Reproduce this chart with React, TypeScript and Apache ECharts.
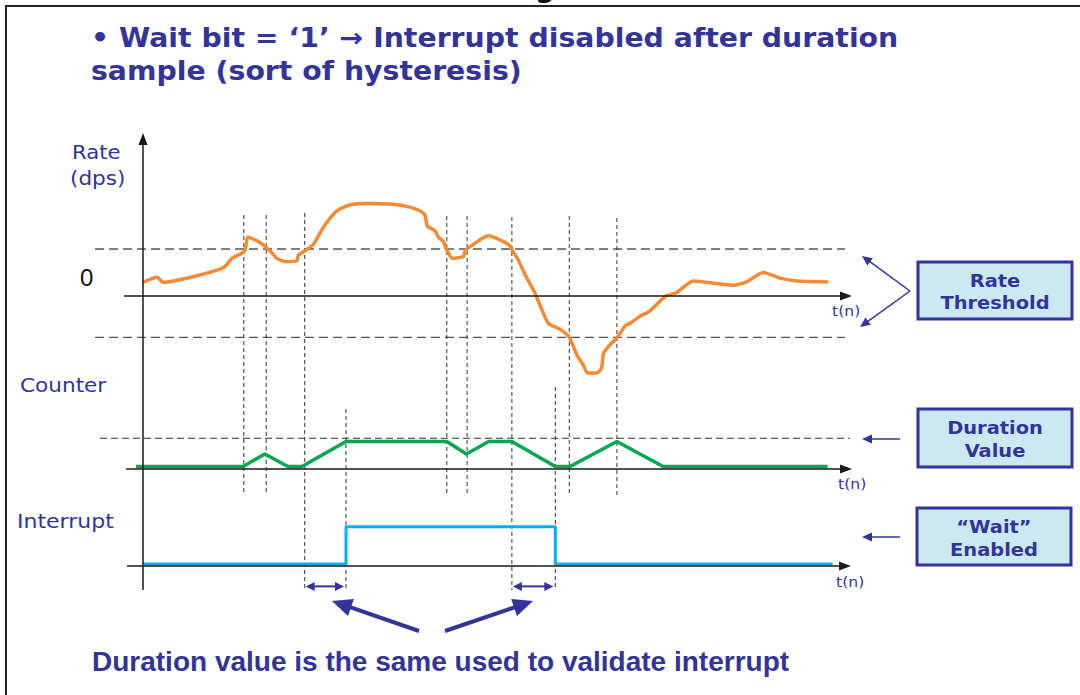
import React, { useEffect, useRef } from "react";
import * as echarts from "echarts";

// ---------------- data ----------------
// time axis (arbitrary sample units), shared by the three panels
const X_MIN = -7;
const X_MAX = 101;

// Rate (dps) curve
const RATE_T = [
  0, 2.0, 2.9, 7.7, 11.0, 11.8, 12.7, 14.1, 14.6, 15.0,
  16.7, 18.4, 19.1, 20.3, 22.0, 22.2, 23.1, 24.3, 25.8, 27.7,
  29.6, 32.0, 35.8, 38.1, 39.6, 40.3, 40.6, 41.7, 42.2, 42.9,
  43.4, 44.2, 45.8, 46.0, 47.4, 49.3, 51.2, 52.4, 52.8, 53.6,
  54.6, 56.0, 56.7, 57.9, 59.6, 60.9, 62.0, 62.9, 63.5, 64.8,
  65.5, 65.8, 66.7, 67.7, 68.9, 69.6, 71.0, 72.4, 74.6, 76.2,
  78.6, 84.3, 86.2, 88.6, 91.0, 93.4, 97.9,
];
const RATE_V = [
  2.9, 4.0, 2.9, 4.3, 5.7, 6.4, 8.0, 9.1, 9.8, 12.5,
  11.4, 9.2, 8.0, 7.3, 7.5, 8.7, 9.6, 10.9, 14.7, 18.1,
  19.4, 19.7, 19.5, 18.9, 18.1, 17.2, 14.9, 13.9, 12.5, 11.6,
  9.8, 8.0, 8.4, 9.6, 11.2, 12.8, 11.8, 10.7, 9.6, 7.7,
  4.5, 0.6, -1.9, -5.8, -7.1, -8.8, -12.6, -14.7, -16.4, -16.4,
  -15.4, -12.2, -10.4, -8.9, -6.3, -5.8, -4.3, -3.2, -0.1, 0.7,
  3.2, 2.3, 3.0, 5.0, 3.8, 3.2, 3.0,
];
const RATE_THRESHOLD_HIGH = 10;
const RATE_THRESHOLD_LOW = -8.8;

// Counter
const COUNTER_T = [-1, 14.3, 17.4, 20.7, 22.7, 29.0, 43.4, 46.2, 49.4, 52.7, 58.9, 61.0, 67.7, 74.3, 97.8];
const COUNTER_V = [0, 0, 2, 0, 0, 4, 4, 2, 4, 4, 0, 0, 4, 0, 0];
const DURATION_VALUE = 4;

// Interrupt
const INT_T = [0, 29.0, 29.0, 58.9, 58.9, 98.5];
const INT_V = [0, 0, 1, 1, 0, 0];

// event instants (vertical dashed markers)
const EVENT_T = [14.4, 17.6, 23.1, 29.0, 43.4, 46.3, 52.7, 58.9, 60.9, 67.7];

// texts
const TITLE_LINES = ["• Wait bit = ‘1’ → Interrupt disabled after duration", "sample (sort of hysteresis)"];
const FOOTNOTE = "Duration value is the same used to validate interrupt";
const BOX_LABELS = [["Rate", "Threshold"], ["Duration", "Value"], ["“Wait”", "Enabled"]];
const AXIS_END_LABEL = "t(n)";

// ---------------- layout / style ----------------
const GRID_LEFT = 94;
const GRID_WIDTH = 756;
const EVENT_SPAN = [
  [215, 492], [215, 492], [213, 590], [409, 590], [216, 493],
  [216, 496], [217, 590], [387, 590], [216, 493], [218, 497],
];
const NAVY = "#333399";
const ORANGE = "#F28A36";
const GREEN = "#00A651";
const CYAN = "#00B0F0";
const BOX_FILL = "#CCE8F3";
const VF = "'DejaVu Sans', Verdana, sans-serif";
const AF = "'Liberation Sans', Arial, sans-serif";

function zip(a: number[], b: number[]) {
  return a.map((v, i) => [v, b[i]]);
}

function txt(text: string, x: number, baseline: number, size: number, opts: any = {}) {
  const family = opts.family || VF;
  const weight = opts.weight || "normal";
  const align = opts.align || "left";
  return {
    type: "text",
    x,
    y: baseline - 0.346 * size,
    scaleX: opts.scaleX || 1,
    z: 20,
    style: {
      text,
      fill: opts.color || NAVY,
      font: `${weight} ${size}px ${family}`,
      fontSize: size,
      fontFamily: family,
      fontWeight: weight,
      align,
      textAlign: align,
      verticalAlign: "middle",
      textVerticalAlign: "middle",
    },
  };
}

function arrowEls(x1: number, y1: number, x2: number, y2: number, o: any) {
  const { color, width, head, half, both } = o;
  const dx = x2 - x1, dy = y2 - y1;
  const L = Math.hypot(dx, dy);
  const ux = dx / L, uy = dy / L;
  const nx = -uy, ny = ux;
  const sx = both ? x1 + ux * head * 0.8 : x1;
  const sy = both ? y1 + uy * head * 0.8 : y1;
  const ex = x2 - ux * head * 0.8, ey = y2 - uy * head * 0.8;
  const tri = (tx: number, ty: number, vx: number, vy: number) => ({
    type: "polygon",
    z: 15,
    shape: {
      points: [
        [tx, ty],
        [tx - vx * head + nx * half, ty - vy * head + ny * half],
        [tx - vx * head - nx * half, ty - vy * head - ny * half],
      ],
    },
    style: { fill: color },
  });
  const els: any[] = [
    { type: "line", z: 15, shape: { x1: sx, y1: sy, x2: ex, y2: ey }, style: { stroke: color, lineWidth: width } },
    tri(x2, y2, ux, uy),
  ];
  if (both) els.push(tri(x1, y1, -ux, -uy));
  return els;
}

function hline(x1: number, x2: number, y: number, style: any, z = 1) {
  return { type: "line", z, shape: { x1, y1: y, x2, y2: y }, style };
}

export default function App() {
  const ref = useRef<HTMLDivElement>(null);

  useEffect(() => {
    const chart = echarts.init(ref.current!, null, { renderer: "svg" });
    const grid = [
      { left: GRID_LEFT, width: GRID_WIDTH, top: 131.5, height: 258.5 },
      { left: GRID_LEFT, width: GRID_WIDTH, top: 429, height: 62.5 },
      { left: GRID_LEFT, width: GRID_WIDTH, top: 508.05, height: 93.25 },
    ];
    const xAxis = [0, 1, 2].map((i) => ({ type: "value", gridIndex: i, min: X_MIN, max: X_MAX, show: false }));
    const yAxis = [
      { type: "value", gridIndex: 0, min: -20, max: 35, show: false },
      { type: "value", gridIndex: 1, min: -4, max: 6, show: false },
      { type: "value", gridIndex: 2, min: -1, max: 1.5, show: false },
    ];
    chart.setOption({
      animation: false,
      backgroundColor: "#ffffff",
      grid,
      xAxis,
      yAxis,
      series: [
        {
          type: "line", xAxisIndex: 0, yAxisIndex: 0, data: zip(RATE_T, RATE_V),
          showSymbol: false, smooth: 0.2, clip: false, z: 5,
          lineStyle: { color: ORANGE, width: 3.5 },
        },
        {
          type: "line", xAxisIndex: 1, yAxisIndex: 1, data: zip(COUNTER_T, COUNTER_V),
          showSymbol: false, clip: false, z: 5,
          lineStyle: { color: GREEN, width: 3.5 },
        },
        {
          type: "line", xAxisIndex: 2, yAxisIndex: 2, data: zip(INT_T, INT_V),
          showSymbol: false, clip: false, z: 5,
          lineStyle: { color: CYAN, width: 3 },
        },
      ],
    });

    const px = (g: number, t: number, v: number) => chart.convertToPixel({ gridIndex: g }, [t, v]) as number[];
    const [x0, yRate0] = px(0, 0, 0);
    const yHi = px(0, 0, RATE_THRESHOLD_HIGH)[1];
    const yLo = px(0, 0, RATE_THRESHOLD_LOW)[1];
    const yCnt0 = px(1, 0, 0)[1];
    const yDur = px(1, 0, DURATION_VALUE)[1];
    const yInt0 = px(2, 0, 0)[1];
    const xEnd = px(0, X_MAX, 0)[0];

    const els: any[] = [];
    // frame
    els.push({ type: "line", z: 30, shape: { x1: 5, y1: 6, x2: 1080, y2: 6 }, style: { stroke: "#222", lineWidth: 2 } });
    els.push({ type: "line", z: 30, shape: { x1: 6, y1: 6, x2: 6, y2: 695 }, style: { stroke: "#222", lineWidth: 2 } });
    els.push(txt("g", 545, -3, 28, { weight: "bold", color: "#111", align: "center" }));

    // title
    els.push(txt(TITLE_LINES[0], 91, 47, 26, { weight: "bold", scaleX: 1.09 }));
    els.push(txt(TITLE_LINES[1], 91, 80, 26, { weight: "bold", scaleX: 1.09 }));

    // threshold dashed lines
    const dashH = { stroke: "#555", lineWidth: 1.3, lineDash: [9, 5] };
    els.push(hline(95, 845, yHi, dashH));
    els.push(hline(95, 845, yLo, dashH));
    els.push(hline(100, 850, yDur - 3.2, { stroke: "#333", lineWidth: 1.1, lineDash: [7, 4] }));

    // event dashed verticals
    EVENT_T.forEach((t, i) => {
      const x = px(0, t, 0)[0];
      els.push({
        type: "line", z: 1,
        shape: { x1: x, y1: EVENT_SPAN[i][0], x2: x, y2: EVENT_SPAN[i][1] },
        style: { stroke: "#333", lineWidth: 1, lineDash: [4, 3] },
      });
    });

    // axes
    const axStyle = { color: "#1a1a1a", width: 1.5, head: 12, half: 4.5 };
    els.push(...arrowEls(x0, 590, x0, 133, axStyle));
    els.push(...arrowEls(124, yRate0, xEnd + 2, yRate0, axStyle));
    els.push(...arrowEls(126, yCnt0 + 2.5, xEnd + 2, yCnt0 + 2.5, axStyle));
    els.push(...arrowEls(127, yInt0 + 2, xEnd + 1, yInt0 + 2, axStyle));

    // axis labels
    els.push(txt("Rate", 72, 159, 20, { scaleX: 1.06 }));
    els.push(txt("(dps)", 70, 185, 20, { scaleX: 1.08 }));
    els.push(txt("0", 80, 286, 24, { family: AF, color: "#111" }));
    els.push(txt("Counter", 20, 392, 20, { scaleX: 1.08 }));
    els.push(txt("Interrupt", 17, 528, 20, { scaleX: 1.1 }));
    els.push(txt(AXIS_END_LABEL, 832, 316, 14, { scaleX: 1.12 }));
    els.push(txt(AXIS_END_LABEL, 838, 489, 14, { scaleX: 1.12 }));
    els.push(txt(AXIS_END_LABEL, 836, 587, 14, { scaleX: 1.12 }));

    // duration double arrows
    const da = { color: NAVY, width: 2, head: 9, half: 4.5, both: true };
    const yDA = px(2, 0, -0.6)[1];
    els.push(...arrowEls(px(2, EVENT_T[2], 0)[0] + 1, yDA, px(2, EVENT_T[3], 0)[0] - 2, yDA, da));
    els.push(...arrowEls(px(2, EVENT_T[6], 0)[0] + 1, yDA, px(2, EVENT_T[7], 0)[0] - 2, yDA, da));

    // big pointer arrows
    const ba = { color: NAVY, width: 4, head: 20, half: 9 };
    els.push(...arrowEls(419, 631, 332, 601, ba));
    els.push(...arrowEls(445, 631, 533, 601, ba));

    // footnote
    els.push(txt(FOOTNOTE, 92, 671, 28, { family: AF, weight: "bold" }));

    // right boxes
    const boxes = [
      [918, 262, 154, 57],
      [918, 409, 154, 58],
      [917, 508, 154, 57],
    ];
    const boxBase = [[286.7, 309], [434, 457], [533, 555.7]];
    boxes.forEach((b, i) => {
      els.push({
        type: "rect", z: 10,
        shape: { x: b[0], y: b[1], width: b[2], height: b[3] },
        style: { fill: BOX_FILL, stroke: NAVY, lineWidth: 3 },
      });
      const cx = b[0] + b[2] / 2;
      els.push(txt(BOX_LABELS[i][0], cx, boxBase[i][0], 18.5, { weight: "bold", align: "center", scaleX: 1.05 }));
      els.push(txt(BOX_LABELS[i][1], cx, boxBase[i][1], 18.5, { weight: "bold", align: "center", scaleX: 1.05 }));
    });

    // pointers to boxes
    const pa = { color: NAVY, width: 1.5, head: 10, half: 4.5 };
    els.push(...arrowEls(910, 291, 862, 256, pa));
    els.push(...arrowEls(910, 291, 860, 327, pa));
    els.push(...arrowEls(900, 439, 862, 439, pa));
    els.push(...arrowEls(900, 537, 862, 537, pa));

    chart.setOption({ graphic: { elements: els } });
    return () => chart.dispose();
  }, []);

  return (
    <div
      ref={ref}
      style={{ position: "fixed", left: 0, top: 0, width: 1080, height: 695, background: "#fff" }}
    />
  );
}
